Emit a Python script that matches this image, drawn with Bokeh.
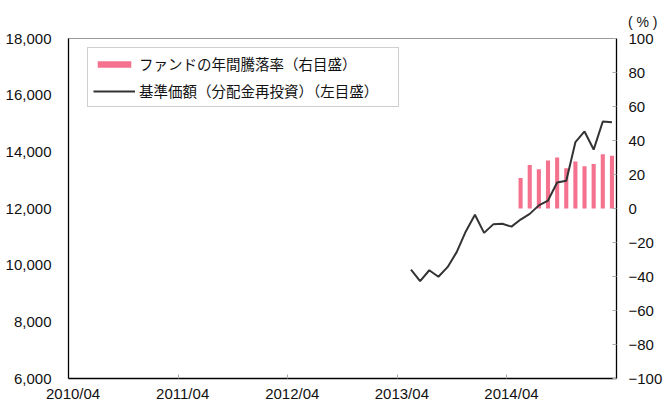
from bokeh.plotting import figure
from bokeh.models import (Range1d, LinearAxis, FixedTicker, NumeralTickFormatter,
                          Legend, LegendItem, Title, ColumnDataSource)
from bokeh.embed import file_html
from bokeh.resources import INLINE

# ---- data ----
start_month = "2010/04"
n_months = 60
x_tick_labels = ["2010/04", "2011/04", "2012/04", "2013/04", "2014/04"]

nav_months = ["2013/05", "2013/06", "2013/07", "2013/08", "2013/09", "2013/10",
              "2013/11", "2013/12", "2014/01", "2014/02", "2014/03", "2014/04",
              "2014/05", "2014/06", "2014/07", "2014/08", "2014/09", "2014/10",
              "2014/11", "2014/12", "2015/01", "2015/02", "2015/03"]
nav_values = [9840, 9440, 9820, 9590, 9930, 10460, 11190, 11780, 11140, 11440,
              11460, 11360, 11610, 11810, 12110, 12280, 12920, 12980, 14340,
              14720, 14080, 15070, 15040]

ret_months = ["2014/05", "2014/06", "2014/07", "2014/08", "2014/09", "2014/10",
              "2014/11", "2014/12", "2015/01", "2015/02", "2015/03"]
ret_values = [18.0, 25.6, 23.1, 28.2, 30.0, 23.7, 27.6, 24.9, 26.2, 31.9, 31.1]

left_ticks = [6000, 8000, 10000, 12000, 14000, 16000, 18000]
right_ticks = [-100, -80, -60, -40, -20, 0, 20, 40, 60, 80, 100]

bar_label = "ファンドの年間騰落率（右目盛）"
line_label = "基準価額（分配金再投資）（左目盛）"
right_unit = "( % )"


def midx(s):
    y, m = map(int, s.split("/"))
    y0, m0 = map(int, start_month.split("/"))
    return (y - y0) * 12 + (m - m0)


NUM_FONT = "Liberation Sans"
JP_FONT = "Noto Sans CJK JP"
PINK = "#F5728F"
LINE = "#333333"
TXT = "#111111"

p = figure(width=665, height=408, output_backend="svg", toolbar_location=None,
           x_range=Range1d(0, n_months), y_range=Range1d(6000, 18000),
           min_border_left=68, min_border_right=46, min_border_top=38,
           min_border_bottom=30)
p.outline_line_color = "#9a9a9a"
p.outline_line_width = 1
p.xgrid.visible = False
p.ygrid.visible = False
p.background_fill_color = "white"
p.border_fill_color = "white"

p.extra_y_ranges = {"pct": Range1d(-100, 100)}

# bottom axis: labels at month centres, tick marks at month boundaries
xa = p.xaxis[0]
xa.ticker = FixedTicker(ticks=[midx(s) + 0.5 for s in x_tick_labels],
                        minor_ticks=[midx(s) for s in x_tick_labels])
xa.major_label_overrides = {midx(s) + 0.5: s for s in x_tick_labels}
xa.major_tick_line_color = None
xa.major_tick_in = 0
xa.major_tick_out = 0
xa.minor_tick_line_color = "#aaaaaa"
xa.minor_tick_in = 4
xa.minor_tick_out = 0
xa.axis_line_color = "black"
xa.axis_line_width = 1.3
xa.major_label_standoff = 6
xa.major_label_text_font = NUM_FONT
xa.major_label_text_font_size = "15px"
xa.major_label_text_color = TXT

# left axis
ya = p.yaxis[0]
ya.ticker = FixedTicker(ticks=left_ticks)
ya.formatter = NumeralTickFormatter(format="0,0")
ya.minor_tick_line_color = None
ya.major_tick_line_color = None
ya.major_tick_in = 0
ya.major_tick_out = 0
ya.axis_line_color = "black"
ya.axis_line_width = 1.3
ya.major_label_standoff = 17
ya.major_label_text_font = NUM_FONT
ya.major_label_text_font_size = "15px"
ya.major_label_text_color = TXT

# right axis
ra = LinearAxis(y_range_name="pct", ticker=FixedTicker(ticks=right_ticks))
ra.minor_tick_line_color = None
ra.major_tick_in = 4
ra.major_tick_out = 0
ra.major_tick_line_color = "#aaaaaa"
ra.axis_line_color = "black"
ra.axis_line_width = 1.3
ra.major_label_standoff = 12
ra.major_label_text_font = NUM_FONT
ra.major_label_text_font_size = "15px"
ra.major_label_text_color = TXT
p.add_layout(ra, "right")

bar_src = ColumnDataSource(dict(x=[midx(s) + 0.5 for s in ret_months], top=ret_values))
line_src = ColumnDataSource(dict(x=[midx(s) + 0.5 for s in nav_months], y=nav_values))

bars = p.vbar(x="x", top="top", bottom=0, width=0.45, source=bar_src,
              y_range_name="pct", fill_color=PINK, line_color=None)
ln = p.line(x="x", y="y", source=line_src, line_color=LINE, line_width=2)

legend = Legend(items=[LegendItem(label=bar_label, renderers=[bars]),
                       LegendItem(label=line_label, renderers=[ln])],
                location=(19, 271), orientation="vertical",
                glyph_width=42, glyph_height=8, label_height=14, spacing=6,
                padding=5, label_standoff=4, label_width=254, margin=0,
                label_text_font=JP_FONT, label_text_font_size="14.5px",
                label_text_color=TXT,
                border_line_color="#a0a0a0", border_line_width=1.5,
                background_fill_color="white", background_fill_alpha=1)
p.add_layout(legend, "center")

pct_title = Title(text=right_unit, align="right", offset=-41, standoff=18,
                  text_font=NUM_FONT, text_font_size="14px",
                  text_font_style="normal", text_color=TXT)
p.add_layout(pct_title, "above")

open("out.html", "w").write(file_html(p, INLINE))
